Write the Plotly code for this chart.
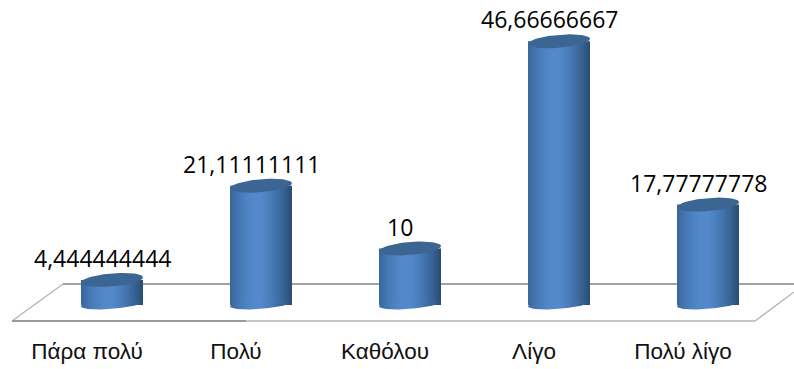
import numpy as np
import plotly.graph_objects as go

categories = ["Πάρα πολύ", "Πολύ", "Καθόλου", "Λίγο", "Πολύ λίγο"]
values = [4.444444444, 21.11111111, 10, 46.66666667, 17.77777778]
value_labels = ["4,444444444", "21,11111111", "10", "46,66666667", "17,77777778"]

WIDTH, HEIGHT = 794, 369
PLOT_H = 335
X0, DX = 112, 149          # pixel centre of the first column, column spacing
Y0, DY = 305, 5.65         # pixel height of zero, pixels per unit
BAR_PX = 62
LABEL_SHIFT_PX = 25        # category labels sit left of their columns

# horizontal shading across a cylinder, left edge to right edge
shade_rgb = np.array([
    (0x39, 0x68, 0x9f), (0x44, 0x77, 0xb3), (0x4d, 0x82, 0xc1), (0x53, 0x88, 0xca),
    (0x53, 0x88, 0xca), (0x4c, 0x7f, 0xbd), (0x42, 0x72, 0xaa), (0x36, 0x62, 0x93), (0x2a, 0x4f, 0x75),
], dtype=float)
SLICES = 31                # two pixels per slice
positions = np.linspace(0, len(shade_rgb) - 1, SLICES)
shade = [
    "rgb({:.0f},{:.0f},{:.0f})".format(*[np.interp(p, range(len(shade_rgb)), shade_rgb[:, c]) for c in range(3)])
    for p in positions
]
cap_colour = "#3b6593"
bar_w = BAR_PX / DX
slice_w = bar_w / SLICES
unit_x, unit_y = 1 / DX, 1 / DY
x_pos = list(range(len(categories)))


def ellipse(cx, cy, a_px, b_px, tilt_px):
    """Tilted ellipse around a data point, with its radii given in pixels."""
    t = np.linspace(0, 2 * np.pi, 73)
    dx = a_px * np.cos(t)
    dy = b_px * np.sin(t) + tilt_px * np.cos(t)
    return cx + dx * unit_x, cy + dy * unit_y


fig = go.Figure()

# cylinder bodies, built from narrow vertical slices to carry the shading
for k, colour in enumerate(shade):
    fig.add_trace(go.Bar(
        x=x_pos, y=values, base=0, width=slice_w,
        offset=-bar_w / 2 + k * slice_w,
        marker=dict(color=colour, line=dict(width=0)),
        hoverinfo="skip", showlegend=False,
    ))

stops = [[i / (SLICES - 1), c] for i, c in enumerate(shade)]
for xp, val in zip(x_pos, values):
    # rounded foot of the cylinder
    ex, ey = ellipse(xp, 0.2, BAR_PX / 2, 5, 2.5)
    fig.add_trace(go.Scatter(
        x=ex, y=ey, mode="lines", line=dict(width=0), fill="toself",
        fillgradient=dict(type="horizontal", colorscale=stops),
        hoverinfo="skip", showlegend=False,
    ))
    # darker top face
    ex, ey = ellipse(xp, val, BAR_PX / 2, 6.5, 2.5)
    fig.add_trace(go.Scatter(
        x=ex, y=ey, mode="lines", line=dict(width=0), fill="toself",
        fillcolor=cap_colour, hoverinfo="skip", showlegend=False,
    ))

# value labels sit above the top faces, slightly left of centre
for xp, val, text in zip(x_pos, values, value_labels):
    fig.add_annotation(
        x=xp, y=val, text=text, showarrow=False, xshift=-10, yshift=22,
        font=dict(family="Open Sans", size=23, color="#000000"),
    )


def px(x):
    return x / WIDTH


def py(y):
    return 1 - y / PLOT_H


# floor of the chart, behind the columns
floor = [
    (63, 284, 794, 284, "#a2a2a2", 2.2),
    (63, 284, 12, 321, "#b5b5b5", 1.4),
    (794, 292, 755, 321, "#b5b5b5", 1.4),
    (12, 321, 246, 321, "#9a9a9a", 2.2),
    (246, 321, 755, 321, "#c6c6c6", 2.2),
]
for x1, y1, x2, y2, colour, lw in floor:
    fig.add_shape(type="line", xref="paper", yref="paper", layer="below",
                  x0=px(x1), y0=py(y1), x1=px(x2), y1=py(y2),
                  line=dict(color=colour, width=lw))

fig.update_layout(
    width=WIDTH, height=HEIGHT,
    margin=dict(l=0, r=0, t=0, b=HEIGHT - PLOT_H),
    paper_bgcolor="#ffffff", plot_bgcolor="#ffffff",
    barmode="overlay", showlegend=False,
    xaxis=dict(
        range=[-X0 / DX, (WIDTH - X0) / DX], tickmode="array",
        tickvals=[xp - LABEL_SHIFT_PX / DX for xp in x_pos], ticktext=categories,
        showgrid=False, zeroline=False, showline=False,
        ticks="", automargin=False,
        tickfont=dict(family="Liberation Sans", size=22.5, color="#111111"),
    ),
    yaxis=dict(
        range=[(Y0 - PLOT_H) / DY, Y0 / DY], visible=False,
        showgrid=False, zeroline=False,
    ),
)

fig.write_html("out.html", config={"displayModeBar": False})
